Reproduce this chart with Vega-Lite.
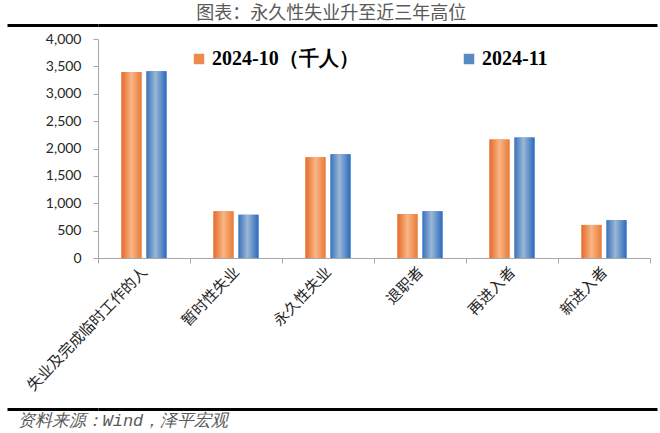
{
  "$schema": "https://vega.github.io/schema/vega-lite/v6.json",
  "description": "永久性失业升至近三年高位",
  "background": "white",
  "padding": {"left": 5, "right": 5, "top": 4, "bottom": 0},
  "title": {
    "text": "图表：永久性失业升至近三年高位",
    "font": "Noto Sans CJK SC",
    "fontSize": 18,
    "fontWeight": "normal",
    "color": "#595959",
    "anchor": "middle",
    "baseline": "top",
    "offset": 1
  },
  "datasets": {
    "jobs": [
      {"category": "失业及完成临时工作的人", "series": "2024-10（千人）", "value": 3395},
      {"category": "失业及完成临时工作的人", "series": "2024-11", "value": 3410},
      {"category": "暂时性失业", "series": "2024-10（千人）", "value": 855},
      {"category": "暂时性失业", "series": "2024-11", "value": 790},
      {"category": "永久性失业", "series": "2024-10（千人）", "value": 1842},
      {"category": "永久性失业", "series": "2024-11", "value": 1897},
      {"category": "退职者", "series": "2024-10（千人）", "value": 805},
      {"category": "退职者", "series": "2024-11", "value": 855},
      {"category": "再进入者", "series": "2024-10（千人）", "value": 2163},
      {"category": "再进入者", "series": "2024-11", "value": 2200},
      {"category": "新进入者", "series": "2024-10（千人）", "value": 604},
      {"category": "新进入者", "series": "2024-11", "value": 690}
    ]
  },
  "spacing": 5,
  "vconcat": [
    {
      "width": 559,
      "height": 1,
      "data": {"values": [{}]},
      "mark": {"type": "rule", "opacity": 0},
      "encoding": {
        "y": {
          "datum": 0,
          "type": "quantitative",
          "scale": {"domain": [0, 1]},
          "axis": {
            "values": [0],
            "title": null,
            "labels": false,
            "domain": false,
            "tickSize": 91,
            "tickWidth": 3,
            "tickColor": "#000000",
            "grid": true,
            "gridWidth": 3,
            "gridColor": "#000000"
          }
        }
      }
    },
    {
      "width": 552,
      "height": 219,
      "view": {"stroke": null},
      "data": {"name": "jobs"},
      "encoding": {
        "x": {
          "field": "category",
          "type": "nominal",
          "sort": null,
          "title": null,
          "scale": {"paddingInner": 0, "paddingOuter": 0},
          "axis": {
            "labelAngle": -46,
            "labelAlign": "right",
            "labelBaseline": "middle",
            "labelFont": "Noto Sans CJK SC",
            "labelFontSize": 15,
            "labelColor": "#262626",
            "labelPadding": 6,
            "labelLimit": 300,
            "tickBand": "extent",
            "tickSize": 5,
            "tickColor": "#A6A6A6",
            "domainColor": "#A6A6A6"
          }
        },
        "xOffset": {
          "field": "series",
          "type": "nominal",
          "scale": {"paddingInner": 0.2, "paddingOuter": 0.94}
        },
        "y": {
          "field": "value",
          "type": "quantitative",
          "title": null,
          "scale": {"domain": [0, 4000]},
          "axis": {
            "values": [0, 500, 1000, 1500, 2000, 2500, 3000, 3500, 4000],
            "format": ",d",
            "grid": false,
            "labelFont": "Lato",
            "labelFontSize": 14,
            "labelColor": "#262626",
            "labelPadding": 12,
            "tickSize": 5,
            "tickColor": "#A6A6A6",
            "domainColor": "#A6A6A6",
            "minExtent": 91
          }
        }
      },
      "layer": [
        {
          "mark": {"type": "bar"},
          "encoding": {
            "color": {
              "field": "series",
              "type": "nominal",
              "scale": {"domain": ["2024-10（千人）", "2024-11"], "range": ["#EE8A4C", "#5A8AC6"]},
              "legend": {
                "title": null,
                "orient": "none",
                "direction": "horizontal",
                "legendX": 91,
                "legendY": 25,
                "symbolType": "square",
                "symbolSize": 110,
                "symbolStrokeWidth": 0,
                "labelFont": "Liberation Serif",
                "labelFontSize": 20,
                "labelFontWeight": "bold",
                "labelColor": "#000000",
                "labelOffset": 3,
                "labelLimit": 300,
                "columnPadding": 100
              }
            }
          }
        },
        {
          "transform": [{"filter": "datum.series === '2024-10（千人）'"}],
          "mark": {
            "type": "bar",
            "fill": {
              "gradient": "linear",
              "x1": 0, "x2": 1, "y1": 0, "y2": 0,
              "stops": [
                {"offset": 0, "color": "#E46C2A"},
                {"offset": 0.5, "color": "#F8B586"},
                {"offset": 1, "color": "#EC7A38"}
              ]
            }
          }
        },
        {
          "transform": [{"filter": "datum.series === '2024-11'"}],
          "mark": {
            "type": "bar",
            "fill": {
              "gradient": "linear",
              "x1": 0, "x2": 1, "y1": 0, "y2": 0,
              "stops": [
                {"offset": 0, "color": "#3A72BE"},
                {"offset": 0.45, "color": "#9BB7D6"},
                {"offset": 1, "color": "#2A6BBE"}
              ]
            }
          }
        }
      ]
    },
    {
      "width": 559,
      "height": 10,
      "data": {"values": [{}]},
      "mark": {"type": "rule", "opacity": 0},
      "encoding": {
        "y": {
          "datum": 0,
          "type": "quantitative",
          "scale": {"domain": [0, 1]},
          "axis": {
            "values": [0],
            "title": null,
            "labels": false,
            "domain": false,
            "tickSize": 91,
            "tickWidth": 3,
            "tickColor": "#000000",
            "grid": true,
            "gridWidth": 3,
            "gridColor": "#000000"
          }
        }
      },
      "title": {
        "text": "资料来源：Wind，泽平宏观",
        "orient": "bottom",
        "anchor": "start",
        "frame": "bounds",
        "dx": 12,
        "font": "Liberation Mono",
        "fontSize": 17,
        "fontStyle": "italic",
        "fontWeight": "normal",
        "color": "#595959",
        "offset": 2
      }
    }
  ],
  "config": {"view": {"stroke": null}}
}
